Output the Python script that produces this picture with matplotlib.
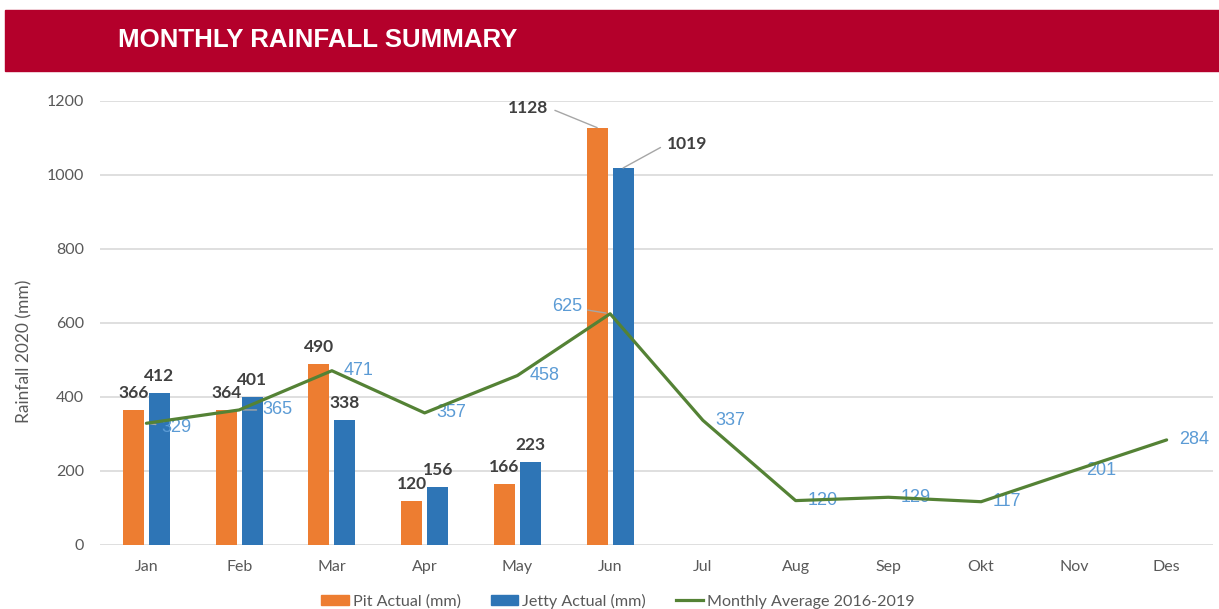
import numpy as np
import matplotlib
matplotlib.use("Agg")
import matplotlib.pyplot as plt
from matplotlib.patches import Patch, Rectangle
from matplotlib.lines import Line2D

# ── Data ──────────────────────────────────────────────────────────────────────

MONTHS        = ["Jan", "Feb", "Mar", "Apr", "May", "Jun",
                 "Jul", "Aug", "Sep", "Okt", "Nov", "Des"]
PIT_ACTUAL    = [366, 364, 490, 120, 166, 1128]
JETTY_ACTUAL  = [412, 401, 338, 156, 223, 1019]
MONTHLY_AVG   = [329, 365, 471, 357, 458, 625, 337, 120, 129, 117, 201, 284]
Y_TICKS       = [0, 200, 400, 600, 800, 1000, 1200]

TITLE  = "MONTHLY RAINFALL SUMMARY"
YLABEL = "Rainfall 2020 (mm)"
LEGEND = ["Pit Actual (mm)", "Jetty Actual (mm)", "Monthly Average 2016-2019"]

# ── Style ─────────────────────────────────────────────────────────────────────

W, H     = 1219, 609
RED      = "#B4002B"
ORANGE   = "#ED7D31"
BLUE     = "#2E75B6"
GREEN    = "#548235"
GRID     = "#D9D9D9"
TXT      = "#595959"
DARK     = "#404040"
AVG_TXT  = "#5B9BD5"
LEADER   = "#A6A6A6"
PX       = 0.72          # pixel -> point at dpi 100

BAR_W    = 0.225
BAR_OFF  = 0.14

# label offsets in pixels (dx, dy) where the default placement was moved
BAR_LABEL_SPECIAL = {("pit", 5): (-69, 20), ("jetty", 5): (64, 24)}
AVG_LABEL_SPECIAL = {0: (15, -4), 1: (23, 0), 5: (-28, 7)}


def fx(px):
    return px / W


def fy(py):
    return 1 - py / H


# ── Banner ────────────────────────────────────────────────────────────────────

def draw_banner(fig):
    fig.patches.append(Rectangle((fx(5), fy(71)), fx(1219) - fx(5), 61 / H,
                                 transform=fig.transFigure, color=RED, zorder=0))
    fig.text(fx(118), fy(40), TITLE, color="white", fontsize=18.6, fontweight="bold",
             family="Liberation Sans", ha="left", va="center")


# ── Bars + labels ─────────────────────────────────────────────────────────────

def bar_labels(ax, xs, vals, key):
    for i, (x, v) in enumerate(zip(xs, vals)):
        if (key, i) in BAR_LABEL_SPECIAL:
            dx, dy = BAR_LABEL_SPECIAL[(key, i)]
            relpos = (1, 0.5) if dx < 0 else (0, 0.5)
            ax.annotate(str(v), (x, v), xytext=(dx * PX, dy * PX),
                        textcoords="offset points", ha="center", va="center",
                        fontsize=12.5, fontweight="bold", color=DARK, family="Lato",
                        arrowprops=dict(arrowstyle="-", color=LEADER, lw=1,
                                        shrinkA=3, shrinkB=0, relpos=relpos))
        else:
            ax.annotate(str(v), (x, v), xytext=(0, 17 * PX),
                        textcoords="offset points", ha="center", va="center",
                        fontsize=12.5, fontweight="bold", color=DARK, family="Lato")


def avg_labels(ax, xs, vals):
    for i, (x, v) in enumerate(zip(xs, vals)):
        dx, dy = AVG_LABEL_SPECIAL.get(i, (12, 0))
        kw = {}
        if i in AVG_LABEL_SPECIAL:
            kw["arrowprops"] = dict(arrowstyle="-", color=LEADER, lw=1,
                                    shrinkA=2, shrinkB=3)
        ax.annotate(str(v), (x, v), xytext=(dx * PX, dy * PX),
                    textcoords="offset points",
                    ha="right" if dx < 0 else "left", va="center",
                    fontsize=13, color=AVG_TXT, family="Liberation Sans", **kw)


# ── Chart ─────────────────────────────────────────────────────────────────────

def main():
    fig = plt.figure(figsize=(W / 100, H / 100), dpi=100)
    draw_banner(fig)

    ax = fig.add_axes([fx(100), 64 / H, 1113 / W, 444 / H])
    x_all = np.arange(len(MONTHS))
    x_bar = np.arange(len(PIT_ACTUAL))

    ax.bar(x_bar - BAR_OFF, PIT_ACTUAL, BAR_W, color=ORANGE, zorder=3)
    ax.bar(x_bar + BAR_OFF, JETTY_ACTUAL, BAR_W, color=BLUE, zorder=3)
    ax.plot(x_all, MONTHLY_AVG, color=GREEN, lw=2.3, solid_joinstyle="round",
            solid_capstyle="round", zorder=4)

    bar_labels(ax, x_bar - BAR_OFF, PIT_ACTUAL, "pit")
    bar_labels(ax, x_bar + BAR_OFF, JETTY_ACTUAL, "jetty")
    avg_labels(ax, x_all, MONTHLY_AVG)

    ax.set_xlim(-0.5, len(MONTHS) - 0.5)
    ax.set_ylim(0, 1200)
    ax.set_xticks(x_all, MONTHS)
    ax.set_yticks(Y_TICKS)
    for s in ax.spines.values():
        s.set_visible(False)
    ax.grid(axis="y", color=GRID, lw=1.2, zorder=0)
    ax.set_axisbelow(True)
    ax.tick_params(length=0, labelcolor=TXT, labelsize=11.5)
    ax.tick_params(axis="x", pad=10.5)
    ax.tick_params(axis="y", pad=11.5)
    for lab in ax.get_xticklabels() + ax.get_yticklabels():
        lab.set_family("Lato")

    ax.set_ylabel(YLABEL, color=TXT, fontsize=12.5, family="Lato")
    ax.yaxis.set_label_coords((32 - 100) / 1113, (545 - 351) / 444)

    handles = [Patch(color=ORANGE), Patch(color=BLUE), Line2D([], [], color=GREEN, lw=2.3)]
    fig.legend(handles, LEGEND, loc="center", bbox_to_anchor=(fx(618), fy(601)),
               ncol=3, frameon=False, prop=dict(family="Lato", size=11.6),
               labelcolor=TXT, handlelength=1.7, handleheight=0.52,
               handletextpad=0.25, columnspacing=1.85, borderpad=0)

    fig.savefig("out.png", dpi=100)


if __name__ == "__main__":
    main()
